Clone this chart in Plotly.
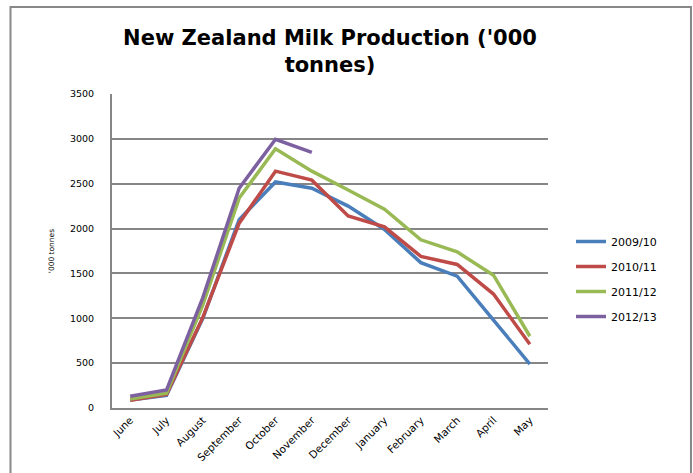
import plotly.graph_objects as go

months = ["June", "July", "August", "September", "October", "November",
          "December", "January", "February", "March", "April", "May"]
y_ticks = [0, 500, 1000, 1500, 2000, 2500, 3000, 3500]

s_2009_10 = [90, 140, 1000, 2100, 2520, 2450, 2250, 1990, 1620, 1470, 980, 490]
s_2010_11 = [85, 150, 1010, 2060, 2640, 2540, 2140, 2020, 1690, 1600, 1270, 710]
s_2011_12 = [100, 165, 1150, 2340, 2890, 2640, 2430, 2215, 1875, 1740, 1480, 800]
s_2012_13 = [130, 200, 1230, 2450, 2995, 2850, None, None, None, None, None, None]

series = [
    ("2009/10", s_2009_10, "#4A7EBB"),
    ("2010/11", s_2010_11, "#BE4B48"),
    ("2011/12", s_2011_12, "#98B954"),
    ("2012/13", s_2012_13, "#7D60A0"),
]

fig = go.Figure()
for name, vals, col in series:
    fig.add_trace(go.Scatter(
        x=months, y=vals, name=name, mode="lines",
        line=dict(color=col, width=3.5),
        legendgroup=name, connectgaps=False,
    ))

W, H = 693, 473
L, R, T, B = 112, 145, 94, 65
pw, ph = W - L - R, H - T - B

def px(x):
    return (x - L) / pw

def py(y):
    return (H - B - y) / ph

fig.update_layout(
    width=W, height=H,
    margin=dict(l=L, r=R, t=T, b=B, autoexpand=False),
    paper_bgcolor="white", plot_bgcolor="white",
    font=dict(family="DejaVu Sans", color="#000000"),
    title=dict(
        text="<b>New Zealand Milk Production ('000<br>tonnes)</b>",
        x=0.5, xanchor="center", y=1 - 45 / H, yanchor="middle",
        xref="paper",
        font=dict(family="DejaVu Sans", size=21, color="#000000"),
    ),
    showlegend=True,
    legend=dict(
        x=px(571), y=py(279), xanchor="left", yanchor="middle",
        font=dict(family="DejaVu Sans", size=11, color="#000000"),
        traceorder="grouped", tracegroupgap=6,
        bgcolor="rgba(0,0,0,0)",
    ),
    xaxis=dict(
        type="category", range=[-0.5, 11.5], automargin=False,
        showgrid=False, showline=True, linecolor="#868686", linewidth=2,
        tickangle=-45, ticks="", tickfont=dict(family="DejaVu Sans", size=10.5),
        zeroline=False, fixedrange=True,
    ),
    yaxis=dict(
        range=[0, 3500], tickvals=y_ticks, automargin=False,
        ticktext=[str(v) for v in y_ticks],
        showgrid=True, gridcolor="#868686", gridwidth=2,
        showline=True, linecolor="#868686", linewidth=2,
        ticks="", ticklabelstandoff=14,
        tickfont=dict(family="DejaVu Sans", size=9.5),
        zeroline=False,
        title=dict(text="'000 tonnes", font=dict(family="DejaVu Sans", size=7.5), standoff=14),
    ),
    shapes=[dict(
        type="rect", xref="paper", yref="paper",
        x0=px(10.5), x1=px(691), y0=py(490), y1=py(7),
        line=dict(color="#888888", width=2), fillcolor="rgba(0,0,0,0)", layer="below",
    )],
)

fig.write_html("out.html")
